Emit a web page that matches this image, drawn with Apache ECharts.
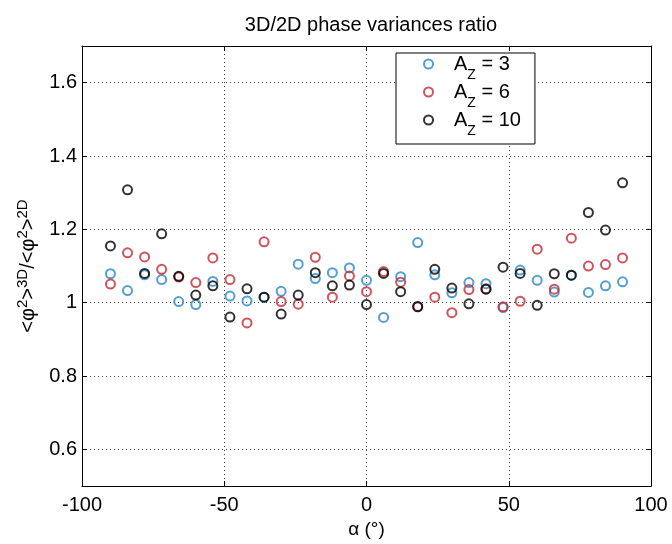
<!DOCTYPE html>
<html>
<head>
<meta charset="utf-8">
<script src="https://cdn.jsdelivr.net/npm/echarts@6/dist/echarts.min.js"></script>
<style>
  html, body { margin: 0; background: #fff; }
  #chart { width: 672px; height: 544px; }
</style>
</head>
<body>
<div id="chart"></div>
<script>
// angle alpha in degrees
const alpha = [-90, -84, -78, -72, -66, -60, -54, -48, -42, -36, -30, -24, -18, -12, -6,
  0, 6, 12, 18, 24, 30, 36, 42, 48, 54, 60, 66, 72, 78, 84, 90]

// <phi^2>3D / <phi^2>2D, one array per A_Z
const az3 = [1.079, 1.033, 1.076, 1.063, 1.003, 0.995, 1.058, 1.018, 1.005, 1.015, 1.031, 1.105, 1.066, 1.082, 1.095,
  1.061, 0.960, 1.071, 1.164, 1.076, 1.027, 1.055, 1.052, 0.987, 1.089, 1.061, 1.029, 1.075, 1.028, 1.046, 1.057]
const az6 = [1.051, 1.136, 1.125, 1.091, 1.070, 1.055, 1.122, 1.063, 0.945, 1.166, 1.003, 0.996, 1.124, 1.015, 1.073,
  1.030, 1.085, 1.056, 0.990, 1.015, 0.973, 1.036, 1.038, 0.989, 1.004, 1.146, 1.037, 1.176, 1.100, 1.104, 1.122]
const az10 = [1.155, 1.308, 1.080, 1.188, 1.072, 1.021, 1.046, 0.961, 1.038, 1.015, 0.969, 1.021, 1.082, 1.046, 1.048,
  0.995, 1.080, 1.030, 0.989, 1.091, 1.040, 0.997, 1.037, 1.097, 1.080, 0.993, 1.079, 1.075, 1.246, 1.198, 1.327]

const seriesNames = ['A_Z = 3', 'A_Z = 6', 'A_Z = 10']
const seriesColors = ['#2a86c8', '#c02a36', '#000000']

const font = 'Liberation Sans, Arial, sans-serif'

function pairs(ys) {
  return alpha.map((a, i) => [a, ys[i]])
}

const chart = echarts.init(document.getElementById('chart'))

// top / right axes only close the box
const boxAxis = {
  axisLine: { show: true, onZero: false, lineStyle: { color: '#000', width: 1 } },
  axisTick: { show: true, inside: true, length: 5, lineStyle: { color: '#000' } },
  axisLabel: { show: false },
  splitLine: { show: false }
}

chart.setOption({
  animation: false,
  textStyle: { fontFamily: font },
  title: {
    text: '3D/2D phase variances ratio',
    left: 366,
    textAlign: 'center',
    top: 10,
    textStyle: { fontSize: 20, fontWeight: 'normal', color: '#000', fontFamily: font }
  },
  grid: { left: 82, right: 21, top: 46, bottom: 51 },
  legend: {
    orient: 'vertical',
    left: 396,
    top: 53,
    padding: [1, 14, 6, 27],
    itemGap: 0,
    itemWidth: 9,
    itemHeight: 9,
    backgroundColor: '#fff',
    borderColor: '#000',
    borderWidth: 1,
    borderRadius: 0,
    data: seriesNames,
    formatter: function(name) {
      const n = name.split('_Z')[1]
      return '{f|A}{z|Z}{a|' + n + '}'
    },
    textStyle: {
      color: '#000',
      fontFamily: font,
      rich: {
        f: { fontSize: 20, lineHeight: 36, padding: [0, 0, 0, 16], fontFamily: font },
        a: { fontSize: 20, lineHeight: 36, fontFamily: font },
        z: { fontSize: 14, lineHeight: 12, verticalAlign: 'bottom', fontFamily: font }
      }
    }
  },
  xAxis: [{
    type: 'value',
    min: -100,
    max: 100,
    interval: 50,
    name: 'α (°)',
    nameLocation: 'middle',
    nameGap: 32,
    nameTextStyle: { fontSize: 19, color: '#000', fontFamily: font },
    axisLine: { show: true, onZero: false, lineStyle: { color: '#000', width: 1 } },
    axisTick: { show: true, inside: true, length: 5, lineStyle: { color: '#000' } },
    axisLabel: { fontSize: 20, color: '#000', margin: 9, fontFamily: font },
    splitLine: { show: true, lineStyle: { color: '#444', width: 1, type: [1, 3] } }
  }, Object.assign({
    type: 'value',
    position: 'top',
    min: -100,
    max: 100,
    interval: 50
  }, boxAxis)],
  yAxis: [{
    type: 'value',
    min: 0.5,
    max: 1.7,
    splitNumber: 6,
    name: '{n|<φ}{s|2}{n|>}{s|3D}{n|/<φ}{s|2}{n|>}{s|2D}',
    nameLocation: 'middle',
    nameRotate: 90,
    nameGap: 38,
    nameTextStyle: {
      color: '#000',
      fontFamily: font,
      rich: {
        n: { fontSize: 20, lineHeight: 26, fontFamily: font },
        s: { fontSize: 15, lineHeight: 14, verticalAlign: 'top', fontFamily: font }
      }
    },
    axisLine: { show: true, onZero: false, lineStyle: { color: '#000', width: 1 } },
    axisTick: { show: true, inside: true, length: 5, lineStyle: { color: '#000' } },
    axisLabel: { fontSize: 20, color: '#000', margin: 5, fontFamily: font, showMinLabel: false, showMaxLabel: false },
    splitLine: { show: true, lineStyle: { color: '#444', width: 1, type: [1, 3] } }
  }, Object.assign({
    type: 'value',
    position: 'right',
    min: 0.5,
    max: 1.7,
    splitNumber: 6
  }, boxAxis)],
  series: [az3, az6, az10].map((ys, i) => ({
    name: seriesNames[i],
    type: 'scatter',
    xAxisIndex: 0,
    yAxisIndex: 0,
    symbol: 'circle',
    symbolSize: 9,
    itemStyle: { color: 'rgba(0,0,0,0)', borderColor: seriesColors[i], borderWidth: 2 },
    data: pairs(ys)
  }))
})
</script>
</body>
</html>
